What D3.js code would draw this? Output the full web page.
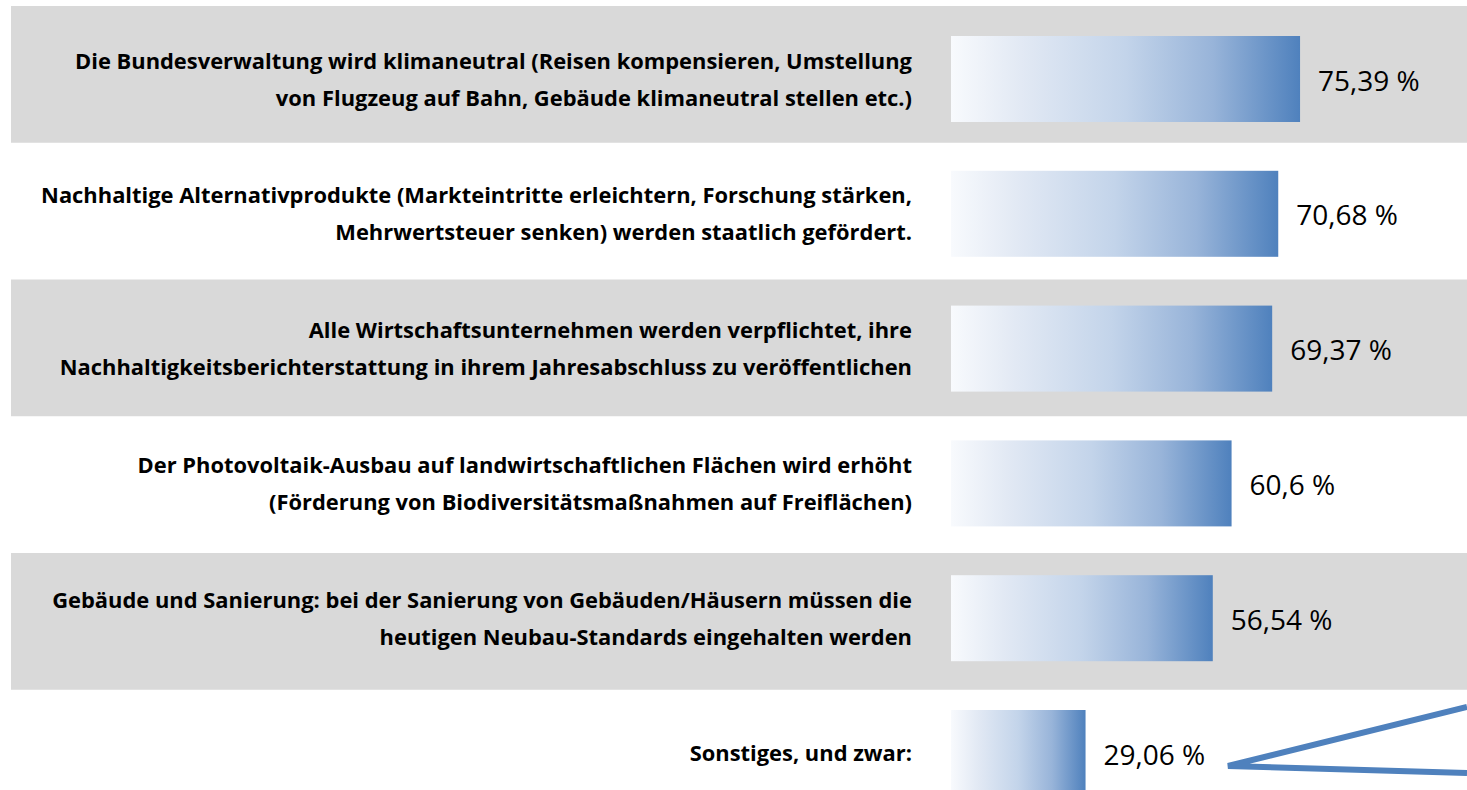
<!DOCTYPE html>
<html>
<head>
<meta charset="utf-8">
<script src="https://cdn.jsdelivr.net/npm/d3@7"></script>
<style>
  body { margin: 0; background: #fff; }
  svg { display: block; }
</style>
</head>
<body>
<div id="chart"></div>
<script>
// Chart data
var categories = [
  ["Die Bundesverwaltung wird klimaneutral (Reisen kompensieren, Umstellung", "von Flugzeug auf Bahn, Gebäude klimaneutral stellen etc.)"],
  ["Nachhaltige Alternativprodukte (Markteintritte erleichtern, Forschung stärken,", "Mehrwertsteuer senken) werden staatlich gefördert."],
  ["Alle Wirtschaftsunternehmen werden verpflichtet, ihre", "Nachhaltigkeitsberichterstattung in ihrem Jahresabschluss zu veröffentlichen"],
  ["Der Photovoltaik-Ausbau auf landwirtschaftlichen Flächen wird erhöht", "(Förderung von Biodiversitätsmaßnahmen auf Freiflächen)"],
  ["Gebäude und Sanierung: bei der Sanierung von Gebäuden/Häusern müssen die", "heutigen Neubau-Standards eingehalten werden"],
  ["Sonstiges, und zwar:"]
];
var values = [75.39, 70.68, 69.37, 60.6, 56.54, 29.06];
var valueLabels = ["75,39 %", "70,68 %", "69,37 %", "60,6 %", "56,54 %", "29,06 %"];

var svgWidth = 1467;
var svgHeight = 790;

var svg = d3.select("#chart")
  .append("svg")
  .attr("width", svgWidth)
  .attr("height", svgHeight);

var idx = d3.range(categories.length);

// Gray row bands (every other row)
var bandScale = d3.scaleBand()
  .domain(idx)
  .range([6, 6 + 136.75 * categories.length]);

svg.append("g")
  .selectAll("rect")
  .data(idx.filter(i => i % 2 === 0))
  .enter()
  .append("rect")
  .attr("x", 11)
  .attr("y", i => bandScale(i))
  .attr("width", svgWidth - 11)
  .attr("height", bandScale.bandwidth())
  .attr("fill", "#d9d9d9");

// Scales for bars
var xScale = d3.scaleLinear()
  .domain([0, 100])
  .range([951, 951 + 463]);

var yScale = d3.scaleBand()
  .domain(idx)
  .range([36 - 24.4, 36 - 24.4 + 134.8 * categories.length])
  .paddingInner(0.362)
  .paddingOuter(0.181);

// Gradient
var defs = svg.append("defs");
var grad = defs.append("linearGradient")
  .attr("id", "barGrad")
  .attr("x1", "0%").attr("x2", "100%")
  .attr("y1", "0%").attr("y2", "0%");
grad.append("stop").attr("offset", "0%").attr("stop-color", "#f8fafd");
grad.append("stop").attr("offset", "20%").attr("stop-color", "#e2e9f4");
grad.append("stop").attr("offset", "50%").attr("stop-color", "#c3d4ea");
grad.append("stop").attr("offset", "75%").attr("stop-color", "#98b4d9");
grad.append("stop").attr("offset", "100%").attr("stop-color", "#4f81bd");

svg.append("g")
  .selectAll("rect")
  .data(values)
  .enter()
  .append("rect")
  .attr("x", xScale(0))
  .attr("y", (d, i) => yScale(i))
  .attr("width", d => xScale(d) - xScale(0))
  .attr("height", yScale.bandwidth())
  .attr("fill", "url(#barGrad)");

// Value labels
svg.append("g")
  .selectAll("text")
  .data(values)
  .enter()
  .append("text")
  .text((d, i) => valueLabels[i])
  .attr("x", d => xScale(d) + 18)
  .attr("y", (d, i) => yScale(i) + yScale.bandwidth() / 2 + 11.5)
  .attr("font-family", "'Open Sans', sans-serif")
  .attr("font-size", "28px")
  .attr("fill", "#000");

// Category labels
var labelGroups = svg.append("g")
  .selectAll("text")
  .data(categories)
  .enter()
  .append("text")
  .attr("text-anchor", "end")
  .attr("font-family", "'Open Sans', sans-serif")
  .attr("font-weight", "bold")
  .attr("font-size", "21.9px")
  .attr("fill", "#000");

labelGroups.each(function(lines, i) {
  var cy = yScale(i) + yScale.bandwidth() / 2;
  var lineH = 37;
  var start = cy - (lines.length - 1) * lineH / 2 + 8;
  d3.select(this).selectAll("tspan")
    .data(lines)
    .enter()
    .append("tspan")
    .attr("x", 912)
    .attr("y", (d, j) => start + j * lineH)
    .text(d => d);
});

// Stray callout line at bottom right
svg.append("path")
  .attr("d", "M1467,707 L1228,766 L1467,773")
  .attr("fill", "none")
  .attr("stroke", "#4f81bd")
  .attr("stroke-width", 6)
  .attr("stroke-linejoin", "miter");
</script>
</body>
</html>
